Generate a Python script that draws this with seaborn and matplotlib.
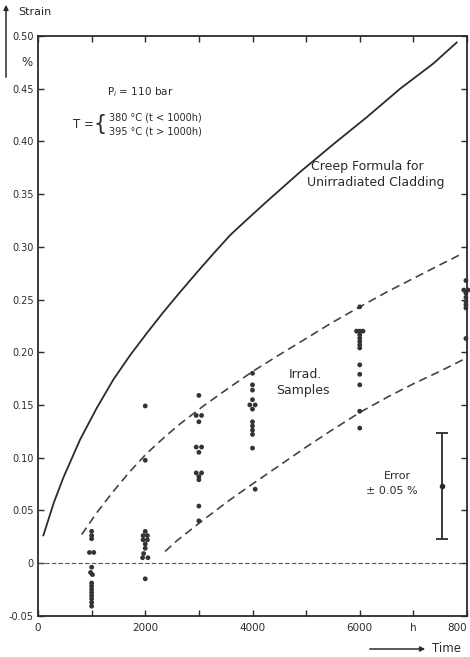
import matplotlib
matplotlib.use("Agg")
import matplotlib.pyplot as plt
import seaborn as sns
import pandas as pd

sns.set_style("white")
plt.rcParams['font.family'] = ['DejaVu Sans']

INK = '#2b2b2b'

# measured samples (time in h, strain in %)
sample_t = [1000, 1000, 1000, 960, 1040, 1000, 980, 1015, 1000, 1000, 1000, 1000, 1000, 1000, 1000, 1000,
            2000, 2000, 2000, 1960, 2040, 1960, 2040, 2000, 2000, 1970, 1950, 2050, 2000,
            3000, 2950, 3050, 3000, 2950, 3050, 3000, 2950, 3050, 3000, 3000, 3000, 3000,
            4000, 4000, 4000, 4000, 3950, 4050, 4000, 4000, 4000, 4000, 4000, 4000, 4050,
            6000, 5940, 6000, 6060, 6000, 6000, 6000, 6000, 6000, 6000, 6000, 6000, 6000, 6000,
            7980, 7940, 8020, 7980, 7980, 7980, 7980, 7980, 7980]
sample_strain = [0.030, 0.026, 0.023, 0.010, 0.010, -0.004, -0.009, -0.011, -0.019, -0.022, -0.025, -0.028,
                 -0.031, -0.034, -0.0375, -0.041,
                 0.149, 0.0975, 0.030, 0.026, 0.026, 0.022, 0.022, 0.018, 0.014, 0.009, 0.005, 0.005, -0.015,
                 0.159, 0.140, 0.140, 0.134, 0.110, 0.110, 0.105, 0.0855, 0.0855, 0.082, 0.079, 0.054, 0.040,
                 0.180, 0.169, 0.164, 0.155, 0.150, 0.150, 0.146, 0.134, 0.130, 0.126, 0.122, 0.109, 0.070,
                 0.243, 0.220, 0.220, 0.220, 0.2165, 0.2134, 0.2102, 0.207, 0.204, 0.188, 0.179, 0.169,
                 0.144, 0.128,
                 0.268, 0.259, 0.259, 0.256, 0.252, 0.248, 0.245, 0.242, 0.213]

# creep formula for unirradiated cladding
creep_t = [99, 300, 473, 784, 1095, 1405, 1716, 2028, 2338, 2649, 2960, 3271, 3582, 3900, 4267, 4888,
           5500, 6132, 6754, 7375, 7811]
creep_strain = [0.026, 0.058, 0.081, 0.117, 0.147, 0.174, 0.197, 0.218, 0.238, 0.257, 0.2755, 0.2935,
                0.311, 0.326, 0.343, 0.371, 0.397, 0.423, 0.450, 0.474, 0.494]

# envelope of irradiated samples
upper_t = [815, 1100, 1405, 1700, 2028, 2350, 2649, 3085, 3582, 4011, 4515, 5000, 5448, 6000, 6500,
           7000, 7500, 7930]
upper_strain = [0.027, 0.048, 0.068, 0.086, 0.104, 0.119, 0.132, 0.149, 0.167, 0.182, 0.198, 0.213,
                0.227, 0.243, 0.257, 0.270, 0.283, 0.294]
lower_t = [2370, 2587, 3085, 3582, 4000, 4515, 5000, 5448, 6007, 6500, 7000, 7500, 7930]
lower_strain = [0.011, 0.021, 0.041, 0.060, 0.075, 0.093, 0.110, 0.125, 0.143, 0.157, 0.170, 0.182, 0.193]

zero_t = [0, 8000]
zero_strain = [0, 0]

err_t = [7537]
err_strain = [0.073]
err_size = [0.05]

x_ticks = [0, 1000, 2000, 3000, 4000, 5000, 6000, 7000, 8000]
x_labels = ['0', '', '2000', '', '4000', '', '6000', 'h', '800']
y_ticks = [-0.05, 0, 0.05, 0.10, 0.15, 0.20, 0.25, 0.30, 0.35, 0.40, 0.45, 0.50]
y_labels = ['-0.05', '0', '0.05', '0.10', '0.15', '0.20', '0.25', '0.30', '0.35', '0.40', '0.45', '0.50']

samples = pd.DataFrame({'t': sample_t, 'strain': sample_strain})
creep = pd.DataFrame({'t': creep_t, 'strain': creep_strain})
upper = pd.DataFrame({'t': upper_t, 'strain': upper_strain})
lower = pd.DataFrame({'t': lower_t, 'strain': lower_strain})
zero = pd.DataFrame({'t': zero_t, 'strain': zero_strain})

fig = plt.figure(figsize=(4.7, 6.57), dpi=100)
ax = fig.add_axes([38 / 470, 41.3 / 657, 429 / 470, 579.7 / 657])

sns.lineplot(data=creep, x='t', y='strain', sort=False, color=INK, linewidth=1.3, ax=ax)
sns.lineplot(data=upper, x='t', y='strain', sort=False, color='#444444', linewidth=1.2,
             linestyle=(0, (5, 3)), ax=ax)
sns.lineplot(data=lower, x='t', y='strain', sort=False, color='#444444', linewidth=1.2,
             linestyle=(0, (5, 3)), ax=ax)
sns.lineplot(data=zero, x='t', y='strain', sort=False, color='#555555', linewidth=0.8,
             linestyle=(0, (4, 2)), ax=ax)
sns.scatterplot(data=samples, x='t', y='strain', color='#333333', s=12, edgecolor='none',
                clip_on=False, zorder=5, ax=ax)

ax.errorbar(err_t, err_strain, yerr=err_size, fmt='o', ms=3, color=INK, lw=1.3,
            capsize=4, capthick=1.3)

ax.set_xlim(0, 8000)
ax.set_ylim(-0.05, 0.50)
ax.set_xticks(x_ticks)
ax.set_xticklabels(x_labels)
ax.set_yticks(y_ticks)
ax.set_yticklabels(y_labels)
ax.set_xlabel('')
ax.set_ylabel('')
ax.xaxis.set_ticks_position('both')
ax.yaxis.set_ticks_position('both')
ax.tick_params(axis='x', direction='in', length=4, width=1, colors=INK, labelsize=7.5, pad=5)
ax.tick_params(axis='y', direction='in', length=4, width=1, colors=INK, labelsize=7, pad=3)
for lbl in ax.get_xticklabels():
    if lbl.get_text() == '800':
        lbl.set_ha('right')
for s in ax.spines.values():
    s.set_color(INK)
    s.set_linewidth(1.3)

# annotations
ax.text(1290, 0.447, r'P$_i$ = 110 bar', fontsize=7.5, color=INK, va='center')
ax.text(650, 0.4165, 'T =', fontsize=8.5, color=INK, va='center')
ax.text(1160, 0.4162, '{', fontsize=15, color=INK, ha='center', va='center')
ax.text(1330, 0.423, '380 °C (t < 1000h)', fontsize=7, color=INK, va='center')
ax.text(1330, 0.409, '395 °C (t > 1000h)', fontsize=7, color=INK, va='center')
ax.text(6140, 0.376, 'Creep Formula for', fontsize=9, color=INK, ha='center', va='center')
ax.text(6290, 0.361, 'Unirradiated Cladding', fontsize=9, color=INK, ha='center', va='center')
ax.text(4980, 0.179, 'Irrad.', fontsize=9, color=INK, ha='center', va='center')
ax.text(4944, 0.164, 'Samples', fontsize=9, color=INK, ha='center', va='center')
ax.text(6700, 0.083, 'Error', fontsize=8, color=INK, ha='center', va='center')
ax.text(6600, 0.068, '± 0.05 %', fontsize=8, color=INK, ha='center', va='center')

# axis captions with arrows
fig.text(18 / 470, 1 - 12 / 657, 'Strain', fontsize=8, color=INK, va='center')
fig.text(21 / 470, 1 - 62 / 657, '%', fontsize=8.5, color=INK, va='center')
fig.add_artist(matplotlib.patches.FancyArrowPatch(
    (6 / 470, 1 - 80 / 657), (6 / 470, 1 - 2 / 657), transform=fig.transFigure,
    arrowstyle='-|>', mutation_scale=7, color=INK, lw=1.1))
fig.add_artist(matplotlib.patches.FancyArrowPatch(
    (367 / 470, 1 - 649 / 657), (428 / 470, 1 - 649 / 657), transform=fig.transFigure,
    arrowstyle='-|>', mutation_scale=7, color=INK, lw=1.1))
fig.text(432 / 470, 1 - 649 / 657, 'Time', fontsize=8.5, color=INK, va='center')

fig.savefig('out.png', dpi=100)
